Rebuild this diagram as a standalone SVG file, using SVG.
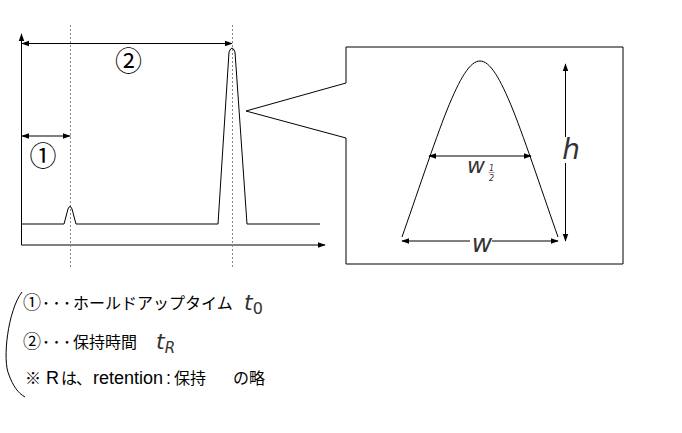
<svg xmlns="http://www.w3.org/2000/svg" width="682" height="433" viewBox="0 0 682 433">
<style>
.ln{stroke:#000;stroke-width:1;fill:none}
.dot{stroke:#888;stroke-width:1;stroke-dasharray:2,2;fill:none}
.arr{stroke:#000;stroke-width:1;fill:none;marker-start:url(#ah);marker-end:url(#ah)}
.jp{font-family:"Noto Sans CJK JP",sans-serif;font-size:16px;fill:#000}
.num{font-family:"Noto Sans CJK JP",sans-serif;font-size:27px;fill:#000}
.lat{font-family:"Liberation Sans","Noto Sans CJK JP",sans-serif;font-size:18px}
.var{font-family:"DejaVu Sans",sans-serif;font-style:italic;fill:#333}
</style>
<defs>
<marker id="ah" viewBox="0 0 10 10" refX="9" refY="5" markerWidth="8" markerHeight="8" markerUnits="userSpaceOnUse" orient="auto-start-reverse">
<path d="M0,1.5 L10,5 L0,8.5 z" fill="#000"/>
</marker>
</defs>
<g id="axes">
<path class="ln" d="M21.5,245 V34" marker-end="url(#ah)"/>
<path class="ln" d="M21.5,245 H325" marker-end="url(#ah)"/>
</g>
<g id="guides">
<line class="dot" x1="70.5" y1="25" x2="70.5" y2="268"/>
<line class="dot" x1="232.5" y1="25" x2="232.5" y2="268"/>
</g>
<g id="chromatogram">
<path class="ln" d="M21.5,224 H64 L68,209 Q70,204 72,209 L76,224 H218 L229,52 Q232,44 235,52 L247,224 H320"/>
</g>
<g id="connectors">
<line class="arr" x1="22" y1="43.5" x2="232" y2="43.5"/>
<line class="arr" x1="22" y1="136" x2="70" y2="136"/>
<line class="arr" x1="429" y1="156" x2="531" y2="156"/>
<line class="arr" x1="402" y1="241" x2="558" y2="241"/>
<line class="arr" x1="565.5" y1="64" x2="565.5" y2="241"/>
</g>
<g id="label-2"><text class="num" x="128.5" y="71" text-anchor="middle">②</text></g>
<g id="label-1"><text class="num" x="43" y="166" text-anchor="middle">①</text></g>
<g id="zoom-box">
<path class="ln" d="M346,83 V47 H623 V264 H346 V138 L246,111 L346,83"/>
<path class="ln" d="M402,237 C415,200 435,140 447,110 C460,78 470,61 480,61 C490,61 500,78 513,110 C525,140 545,200 558,237"/>
</g>
<g id="label-w-half">
<text class="var" x="476" y="173" text-anchor="middle" font-size="22" fill="#555">w</text>
<text class="var" x="491.5" y="170.5" text-anchor="middle" font-size="8" font-style="normal" fill="#666">1</text>
<line x1="488.5" y1="172.5" x2="494.5" y2="172.5" stroke="#666" stroke-width="0.6"/>
<text class="var" x="491.5" y="181" text-anchor="middle" font-size="8" font-style="normal" fill="#666">2</text>
</g>
<g id="label-w">
<rect x="470" y="233" width="22" height="14" fill="#fff"/>
<text class="var" x="482" y="252" text-anchor="middle" font-size="25" fill="#222">w</text>
</g>
<g id="label-h">
<rect x="559" y="137" width="22" height="26" fill="#fff"/>
<text class="var" x="571" y="159" text-anchor="middle" font-size="28" fill="#222">h</text>
</g>
<g id="legend">
<path class="ln" d="M22,292 C8,310 2,360 9,375 C13,386 18,393 25,397"/>
<text class="jp" y="309"><tspan x="23" font-size="18">①</tspan><tspan x="42">･</tspan><tspan x="52.5">･</tspan><tspan x="63">･</tspan><tspan x="73">ホールドアップタイム</tspan></text>
<text class="var" x="244" y="310" font-size="22">t<tspan font-size="16" font-style="normal" dy="4">0</tspan></text>
<text class="jp" y="348"><tspan x="23" font-size="18">②</tspan><tspan x="42">･</tspan><tspan x="52.5">･</tspan><tspan x="63">･</tspan><tspan x="73">保持時間</tspan></text>
<text class="var" x="156" y="349" font-size="22">t<tspan font-size="15" dy="4">R</tspan></text>
<text class="jp" y="384"><tspan x="25">※</tspan><tspan class="lat" x="46">R</tspan><tspan x="61">は</tspan><tspan x="76">、</tspan><tspan class="lat" x="93">retention</tspan><tspan class="lat" x="166">:</tspan><tspan x="174">保持</tspan><tspan x="233">の略</tspan></text>
</g>
</svg>
